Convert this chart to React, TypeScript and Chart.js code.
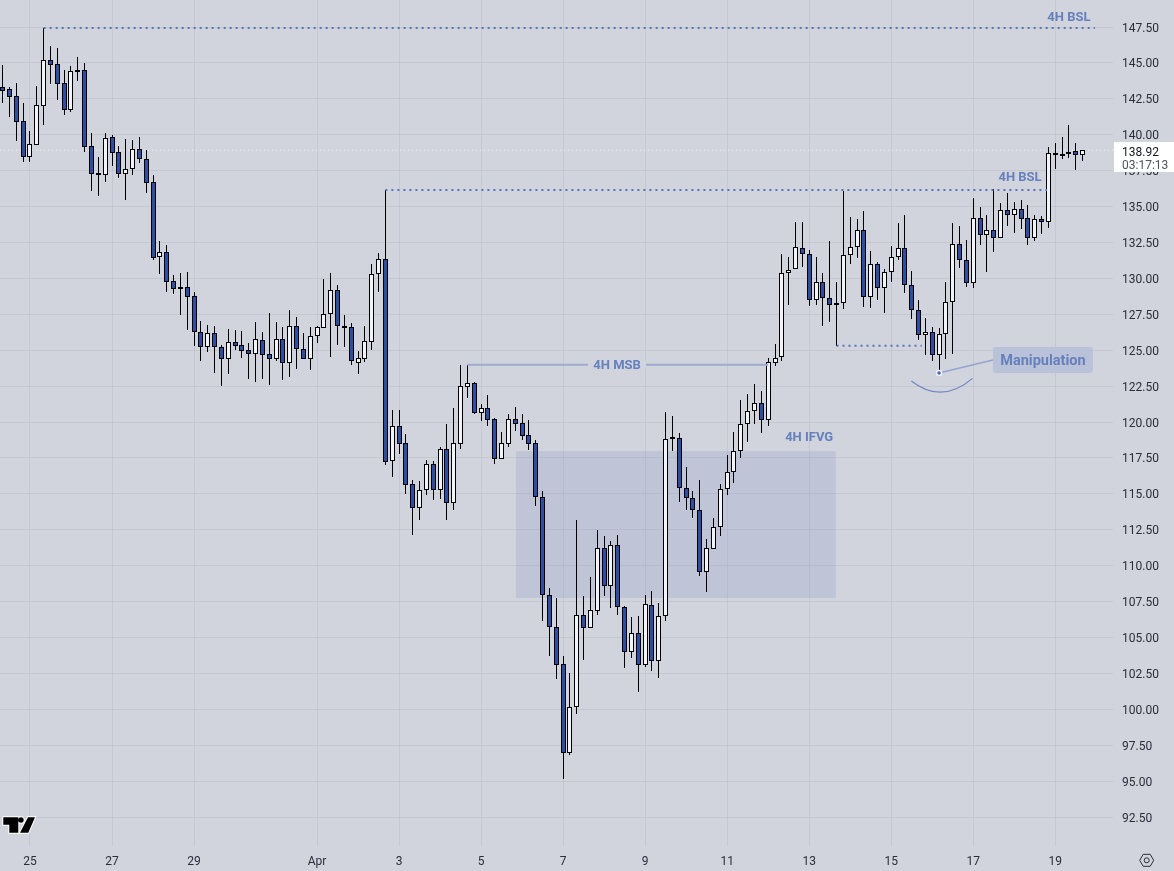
import { useEffect, useRef } from 'react';
import { Chart, registerables } from 'chart.js';

Chart.register(...registerables);

// 4H candles, oldest first
const opens = [
  143.30, 143.16, 142.67, 140.93, 138.47, 139.31, 142.02, 145.18, 144.90, 143.58, 141.74, 144.39, 144.48, 139.19, 137.31, 137.22,
  139.82, 138.77, 137.29, 137.64, 138.98, 138.29, 136.69, 131.51, 131.81, 129.79, 129.33, 129.38, 128.75, 126.29, 125.20, 126.22,
  125.20, 124.41, 125.55, 125.34, 124.99, 124.76, 125.69, 124.71, 124.41, 125.76, 124.13, 126.66, 125.11, 124.41, 125.97, 126.57,
  127.50, 129.17, 126.66, 126.59, 124.13, 124.41, 125.55, 130.28, 131.33, 117.31, 119.70, 118.52, 115.66, 114.04, 115.29, 117.05,
  115.29, 118.10, 114.38, 118.49, 122.46, 122.69, 120.60, 120.95, 120.19, 117.40, 118.49, 120.19, 119.91, 119.07, 118.52, 114.80,
  107.93, 105.75, 103.13, 96.98, 100.14, 106.54, 105.64, 106.87, 111.21, 108.56, 111.42, 107.10, 103.97, 105.29, 103.06, 107.24,
  103.34, 106.47, 118.86, 118.91, 115.38, 114.69, 113.85, 109.53, 111.18, 112.67, 115.31, 116.50, 117.96, 119.84, 120.74, 121.30,
  120.12, 124.08, 124.50, 130.35, 130.63, 132.09, 131.67, 128.47, 129.72, 128.61, 128.12, 128.26, 131.60, 132.16, 133.34, 128.68,
  130.98, 129.31, 130.42, 131.46, 132.09, 129.51, 127.77, 126.03, 126.29, 124.64, 126.10, 128.33, 132.37, 131.26, 129.65, 134.18,
  133.00, 133.34, 132.79, 134.74, 134.39, 134.81, 134.18, 132.79, 134.11, 133.90, 138.66, 138.59, 138.71, 138.84, 138.57,
];
const closes = [
  143.07, 142.65, 140.91, 138.47, 139.33, 142.05, 145.18, 144.88, 143.55, 141.74, 144.41, 144.48, 139.17, 137.29, 137.22, 139.75,
  138.75, 137.29, 137.64, 138.98, 138.33, 136.66, 131.44, 131.81, 129.77, 129.28, 129.40, 128.73, 126.29, 125.20, 126.17, 125.20,
  124.41, 125.55, 125.32, 124.97, 124.76, 125.76, 124.69, 124.41, 125.76, 124.13, 126.66, 125.11, 124.41, 125.97, 126.59, 127.50,
  129.17, 126.66, 126.59, 124.22, 124.43, 125.62, 130.28, 131.33, 117.24, 119.70, 118.49, 115.64, 114.04, 115.24, 117.05, 115.29,
  118.10, 114.38, 118.52, 122.48, 122.69, 120.60, 120.95, 120.16, 117.40, 118.52, 120.19, 119.88, 119.05, 118.49, 114.80, 107.93,
  105.75, 103.11, 96.98, 100.14, 106.54, 105.64, 106.89, 111.21, 108.56, 111.42, 107.10, 103.97, 105.29, 103.06, 107.31, 103.34,
  106.47, 118.79, 118.93, 115.38, 114.69, 113.85, 109.53, 111.20, 112.67, 115.31, 116.50, 117.96, 119.84, 120.74, 121.30, 120.12,
  124.15, 124.43, 130.35, 130.56, 132.16, 131.67, 128.47, 129.72, 128.61, 128.12, 128.26, 131.60, 132.16, 133.34, 128.68, 130.98,
  129.31, 130.42, 131.46, 132.09, 129.51, 127.77, 126.03, 126.29, 124.64, 126.10, 128.33, 132.37, 131.26, 129.65, 134.18, 133.00,
  133.34, 132.79, 134.74, 134.39, 134.81, 134.11, 132.79, 134.11, 133.90, 138.71, 138.71, 138.63, 138.82, 138.57, 138.92,
];
const highs = [
  144.85, 143.30, 143.58, 142.19, 140.26, 143.39, 147.43, 146.15, 146.01, 144.48, 144.76, 145.39, 144.97, 140.10, 138.43, 140.10,
  139.96, 139.19, 139.68, 139.61, 139.82, 138.91, 137.17, 132.58, 132.30, 130.21, 130.35, 130.42, 129.03, 127.01, 126.73, 126.66,
  125.34, 126.45, 126.38, 126.31, 125.50, 126.94, 126.24, 127.57, 126.94, 126.59, 127.78, 127.29, 126.17, 126.59, 126.66, 129.93,
  130.35, 129.52, 127.43, 126.87, 124.92, 126.66, 130.98, 131.74, 136.15, 120.81, 120.81, 119.17, 115.94, 115.89, 117.33, 117.26,
  118.24, 119.86, 120.95, 123.97, 123.97, 122.76, 121.23, 121.86, 120.26, 119.28, 120.53, 121.02, 120.53, 120.12, 118.72, 115.17,
  108.42, 107.73, 103.69, 102.50, 113.16, 107.86, 109.19, 112.46, 112.04, 111.69, 112.11, 107.17, 106.40, 106.47, 107.93, 108.21,
  107.38, 120.67, 120.42, 119.21, 116.84, 115.17, 115.94, 111.85, 113.29, 115.66, 117.68, 119.28, 121.51, 121.93, 122.62, 122.14,
  124.43, 125.41, 131.67, 131.46, 133.92, 133.90, 131.95, 131.46, 130.35, 132.58, 129.72, 136.06, 134.25, 134.11, 134.67, 131.88,
  131.12, 130.63, 132.23, 133.83, 134.39, 130.49, 128.47, 127.22, 126.59, 126.52, 129.72, 133.83, 133.62, 132.65, 135.57, 134.95,
  134.39, 136.20, 135.22, 135.92, 135.29, 135.43, 135.09, 134.39, 134.32, 139.12, 139.40, 139.82, 140.65, 139.40, 138.92,
];
const lows = [
  142.23, 141.26, 139.59, 138.12, 138.12, 139.31, 140.70, 143.53, 142.42, 141.37, 141.60, 143.74, 138.82, 136.08, 135.76, 136.71,
  137.85, 137.01, 135.46, 137.20, 138.05, 135.97, 131.28, 130.30, 129.05, 128.91, 127.45, 126.41, 125.29, 124.25, 124.87, 123.41,
  122.51, 123.34, 125.01, 124.46, 122.99, 122.79, 122.99, 122.58, 124.25, 122.92, 123.13, 123.69, 124.41, 123.62, 125.50, 126.57,
  124.53, 125.36, 125.22, 123.97, 123.34, 124.18, 125.01, 129.05, 117.01, 116.19, 117.77, 114.99, 112.13, 113.18, 114.92, 114.57,
  114.64, 113.18, 113.87, 118.12, 121.67, 120.58, 120.07, 119.72, 117.08, 117.40, 118.26, 119.37, 118.72, 118.05, 114.15, 106.15,
  103.71, 102.11, 95.17, 96.82, 99.67, 103.43, 105.64, 106.56, 107.89, 107.05, 106.56, 102.88, 103.57, 101.20, 102.94, 102.67,
  102.18, 106.15, 117.98, 114.43, 113.87, 113.32, 109.28, 108.16, 111.18, 112.06, 114.92, 115.75, 117.49, 118.61, 119.86, 119.23,
  119.72, 123.90, 124.25, 128.15, 130.63, 130.79, 128.08, 128.15, 126.68, 126.96, 125.29, 127.87, 131.02, 131.42, 128.01, 127.94,
  128.49, 127.59, 129.75, 131.28, 128.98, 127.17, 125.71, 124.66, 124.25, 123.39, 124.39, 124.73, 130.72, 129.40, 129.31, 132.32,
  130.44, 131.84, 132.79, 133.65, 133.16, 133.44, 132.32, 132.60, 133.09, 133.51, 137.61, 138.31, 138.38, 137.55, 138.17,
];

const dayLabels = ['25', '27', '29', 'Apr', '3', '5', '7', '9', '11', '13', '15', '17', '19'];
const dayBars = [4, 16, 28, 46, 58, 70, 82, 94, 106, 118, 130, 142, 154];
const priceTicks = [
  92.5, 95, 97.5, 100, 102.5, 105, 107.5, 110, 112.5, 115, 117.5, 120, 122.5, 125, 127.5, 130, 132.5, 135, 137.5, 140, 142.5, 145,
  147.5,
];

const lastPrice = 138.92;
const countdown = '03:17:13';

const dottedLevels = [
  { from: 6, to: 159.8, price: 147.43 },
  { from: 56, to: 152.8, price: 136.15 },
  { from: 122, to: 134.46, price: 125.31 },
];
const msbLevel = { from: 68, to: 112, price: 123.99 };
const ifvgZone = { from: 75.1, to: 121.9, top: 117.98, bottom: 107.75 };
const notes = [
  { text: '4H BSL', bar: 156, price: 148.24 },
  { text: '4H BSL', bar: 148.85, price: 137.08 },
  { text: '4H IFVG', bar: 118, price: 118.96 },
];
const msbNote = { text: '4H MSB', bar: 89.9, price: 123.99 };
const manipulation = { text: 'Manipulation', bar: 137, price: 123.41, labelBar: 152.2, labelPrice: 124.32 };
const curve = { fromBar: 132.95, fromPrice: 122.86, ctrlBar: 137.4, ctrlPrice: 121.21, toBar: 141.9, toPrice: 123.04 };

const BG = '#d1d4dc';
const BLUE = '#2e4ea1';
const WHITE = '#f0f3fa';
const NOTE = '#6680bd';
const FONT = 'Roboto, sans-serif';
const TEXT_NUDGE = 1.5; // canvas 'middle' baseline sits a bit high for this font

// snap candles to whole pixels so bodies and wicks stay crisp
const snapCandles = {
  id: 'snapCandles',
  beforeDatasetsDraw(chart: any) {
    chart.getSortedVisibleDatasetMetas().forEach((meta: any) => {
      if (meta.type !== 'bar') return;
      meta.data.forEach((el: any) => {
        el.x = Math.floor(el.x) + 0.5;
        const top = Math.round(Math.min(el.y, el.base));
        const bottom = Math.round(Math.max(el.y, el.base));
        el.y = top;
        el.base = Math.max(bottom, top + (meta.index === 0 ? 2 : 1));
      });
    });
  },
};

const noPadding = (scale: any) => {
  scale.paddingTop = 0;
  scale.paddingBottom = 0;
  scale.paddingLeft = 0;
  scale.paddingRight = 0;
};

const drawings = {
  id: 'drawings',
  beforeDraw(chart: any) {
    const { ctx, width, height } = chart;
    ctx.fillStyle = BG;
    ctx.fillRect(0, 0, width, height);
    chart.scales.y.getLabelItems(chart.chartArea).forEach((item: any) => {
      if (item.nudged) return;
      item.nudged = true;
      item.options.translation = [item.options.translation[0], item.options.translation[1] + TEXT_NUDGE];
    });
  },
  beforeDatasetsDraw(chart: any) {
    const { ctx, scales } = chart;
    const x1 = scales.x.getPixelForValue(ifvgZone.from);
    const x2 = scales.x.getPixelForValue(ifvgZone.to);
    const y1 = scales.y.getPixelForValue(ifvgZone.top);
    const y2 = scales.y.getPixelForValue(ifvgZone.bottom);
    ctx.fillStyle = 'rgba(120,140,195,0.2)';
    ctx.fillRect(x1, y1, x2 - x1, y2 - y1);
  },
  afterDraw(chart: any) {
    const { ctx, scales } = chart;
    const px = (bar: number) => scales.x.getPixelForValue(bar);
    const py = (price: number) => scales.y.getPixelForValue(price);

    ctx.save();
    ctx.textAlign = 'center';
    ctx.textBaseline = 'middle';
    ctx.font = `bold 13px ${FONT}`;
    ctx.fillStyle = NOTE;
    notes.forEach((n) => ctx.fillText(n.text, px(n.bar), py(n.price) + 1));

    // the MSB label sits in a gap of its line
    ctx.fillStyle = BG;
    ctx.fillRect(px(msbNote.bar) - 29, py(msbNote.price) - 4, 58, 8);
    ctx.fillStyle = NOTE;
    ctx.fillText(msbNote.text, px(msbNote.bar), py(msbNote.price) + 1);

    // manipulation callout
    const ax = px(manipulation.bar);
    const ay = py(manipulation.price);
    const lx = px(manipulation.labelBar);
    const ly = py(manipulation.labelPrice);
    ctx.strokeStyle = '#92a4cf';
    ctx.lineWidth = 1.5;
    ctx.beginPath();
    ctx.moveTo(ax, ay);
    ctx.lineTo(lx - 50, ly);
    ctx.stroke();
    ctx.fillStyle = '#bac2d9';
    ctx.beginPath();
    ctx.roundRect(lx - 50, ly - 13, 100, 26, 3);
    ctx.fill();
    ctx.fillStyle = NOTE;
    ctx.font = `bold 14.5px ${FONT}`;
    ctx.fillText(manipulation.text, lx, ly + TEXT_NUDGE);

    ctx.fillStyle = '#f0f3fa';
    ctx.beginPath();
    ctx.arc(ax, ay, 3.2, 0, Math.PI * 2);
    ctx.fill();
    ctx.fillStyle = '#4a68b4';
    ctx.beginPath();
    ctx.arc(ax, ay, 1.8, 0, Math.PI * 2);
    ctx.fill();

    ctx.strokeStyle = '#7086c2';
    ctx.lineWidth = 1.2;
    ctx.beginPath();
    ctx.moveTo(px(curve.fromBar), py(curve.fromPrice));
    ctx.quadraticCurveTo(px(curve.ctrlBar), py(curve.ctrlPrice), px(curve.toBar), py(curve.toPrice));
    ctx.stroke();

    // last price tag
    ctx.fillStyle = '#ffffff';
    ctx.fillRect(1114, 142, 60, 30);
    ctx.textAlign = 'left';
    ctx.font = `12px ${FONT}`;
    ctx.fillStyle = '#131722';
    ctx.fillText(lastPrice.toFixed(2), 1122, 151 + TEXT_NUDGE);
    ctx.fillStyle = '#50535e';
    ctx.fillText(countdown, 1122, 164 + TEXT_NUDGE);

    // logo
    ctx.fillStyle = '#000000';
    ctx.strokeStyle = '#ffffff';
    ctx.lineWidth = 2;
    ctx.lineJoin = 'miter';
    const logo = new Path2D();
    logo.moveTo(3.3, 817.3);
    logo.lineTo(18.3, 817.3);
    logo.lineTo(18.3, 832.7);
    logo.lineTo(9.3, 832.7);
    logo.lineTo(9.3, 824.7);
    logo.lineTo(3.3, 824.7);
    logo.closePath();
    logo.moveTo(28, 817.3);
    logo.lineTo(35, 817.3);
    logo.lineTo(28.3, 832.7);
    logo.lineTo(20, 832.7);
    logo.closePath();
    logo.moveTo(23.7, 820);
    logo.arc(21, 820, 2.7, 0, Math.PI * 2);
    ctx.stroke(logo);
    ctx.fill(logo);

    // settings icon
    ctx.strokeStyle = '#2a2e39';
    ctx.lineWidth = 1;
    ctx.beginPath();
    const gx = 1146.7;
    const gy = 860.3;
    ctx.moveTo(gx - 7, gy);
    ctx.lineTo(gx - 3.5, gy - 6);
    ctx.lineTo(gx + 3.5, gy - 6);
    ctx.lineTo(gx + 7, gy);
    ctx.lineTo(gx + 3.5, gy + 6);
    ctx.lineTo(gx - 3.5, gy + 6);
    ctx.closePath();
    ctx.moveTo(gx + 2.5, gy);
    ctx.arc(gx, gy, 2.5, 0, Math.PI * 2);
    ctx.stroke();
    ctx.restore();
  },
};

export default function App() {
  const canvasRef = useRef<HTMLCanvasElement>(null);

  useEffect(() => {
    const ctx = canvasRef.current!.getContext('2d')!;
    const bars = opens.map((_, i) => i);
    const chart = new Chart(ctx, {
      type: 'bar',
      plugins: [snapCandles, drawings],
      data: {
        datasets: [
          {
            label: 'body',
            data: bars.map((i) => ({ x: i, y: [opens[i], closes[i]] })),
            backgroundColor: bars.map((i) => (closes[i] >= opens[i] ? WHITE : BLUE)),
            borderColor: '#000000',
            borderWidth: 1,
            borderSkipped: false,
            barThickness: 5,
            grouped: false,
            inflateAmount: 0,
            order: 2,
          },
          {
            label: 'wick',
            data: bars.map((i) => ({ x: i, y: [lows[i], highs[i]] })),
            backgroundColor: '#000000',
            barThickness: 1,
            grouped: false,
            inflateAmount: 0,
            order: 3,
          },
          ...dottedLevels.map((l) => ({
            type: 'line',
            label: 'level',
            data: [
              { x: l.from, y: l.price },
              { x: l.to, y: l.price },
            ],
            borderColor: '#5673bb',
            borderWidth: 2,
            borderDash: [2, 4],
            pointRadius: 0,
            order: 1,
          })),
          {
            type: 'line',
            label: 'msb',
            data: [
              { x: msbLevel.from, y: msbLevel.price },
              { x: msbLevel.to, y: msbLevel.price },
            ],
            borderColor: '#9dabd0',
            borderWidth: 2,
            pointRadius: 0,
            order: 1,
          },
          {
            type: 'line',
            label: 'last',
            data: [
              { x: -0.387, y: lastPrice },
              { x: 162.451, y: lastPrice },
            ],
            borderColor: '#f0f3fa',
            borderWidth: 1,
            borderDash: [1, 3],
            pointRadius: 0,
            order: 4,
          },
        ] as any,
      },
      options: {
        animation: false,
        responsive: false,
        events: [],
        layout: { padding: 0 },
        plugins: { legend: { display: false }, tooltip: { enabled: false } },
        scales: {
          x: {
            type: 'linear',
            offset: false,
            min: -0.387,
            max: 162.451,
            afterBuildTicks: (scale: any) => {
              scale.ticks = dayBars.map((value) => ({ value }));
            },
            afterFit: (scale: any) => {
              scale.height = 25;
              noPadding(scale);
            },
            grid: { color: 'rgba(120,123,134,0.13)', drawTicks: false, offset: false },
            border: { display: false },
            ticks: {
              autoSkip: false,
              maxRotation: 0,
              padding: 8.5,
              color: '#2a2e39',
              font: { family: 'Roboto, sans-serif', size: 12 },
              callback: (value: any) => dayLabels[dayBars.indexOf(value)],
            },
          },
          y: {
            type: 'linear',
            position: 'right',
            min: 90.483,
            max: 149.38,
            afterBuildTicks: (scale: any) => {
              scale.ticks = priceTicks.map((value) => ({ value }));
            },
            afterFit: (scale: any) => {
              scale.width = 61;
              noPadding(scale);
            },
            grid: { color: 'rgba(120,123,134,0.13)', drawTicks: false },
            border: { display: false },
            ticks: {
              padding: 9,
              color: '#2a2e39',
              font: { family: 'Roboto, sans-serif', size: 12 },
              callback: (value: any) => Number(value).toFixed(2),
            },
          },
        },
      },
    });
    return () => chart.destroy();
  }, []);

  return (
    <div style={{ position: 'fixed', left: 0, top: 0, width: 1174, height: 871 }}>
      <canvas ref={canvasRef} width={1174} height={871} style={{ display: 'block' }} />
    </div>
  );
}
